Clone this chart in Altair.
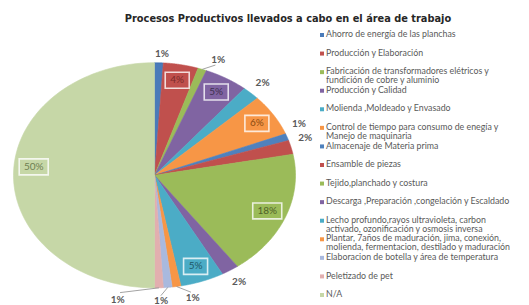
import altair as alt
import pandas as pd

# ---------------- data ----------------
categories = [
    "Ahorro de energía de las planchas",
    "Producción y Elaboración",
    "Fabricación de transformadores elétricos  y\nfundición de cobre y aluminio",
    "Producción y Calidad",
    " Molienda ,Moldeado y Envasado",
    "Control de tiempo para consumo de enegía y\nManejo de maquinaria",
    "Almacenaje de Materia prima",
    "Ensamble de piezas",
    "Tejido,planchado y costura",
    "Descarga ,Preparación ,congelación y Escaldado",
    "Lecho profundo,rayos ultravioleta, carbon\nactivado, ozonificación y osmosis inversa",
    "Plantar, 7años de maduración, jima, conexión,\nmolienda, fermentacion, destilado y maduración",
    "Elaboracion de botella y área de temperatura",
    "Peletizado de pet",
    "N/A",
]
values = [1, 4, 1, 5, 2, 6, 1, 2, 18, 2, 5, 1, 1, 1, 50]

# label placement: radius as a fraction of the pie radius, small angular nudges in degrees
label_r = [1.08, 0.86, 1.12, 0.86, 1.12, 0.86, 1.12, 1.12, 0.86, 1.12, 0.86, 1.12, 1.12, 1.14, 0.86]
label_nudge = [1, 0, 4, 0, 0, 0, -4, -3, 0, 0, 0, -5, 3, 15, 5]
leader = [0, 0, 1, 0, 0, 0, 0, 0, 0, 0, 0, 1, 1, 1, 0]

title_text = "Procesos  Productivos  llevados a cabo en el área de trabajo"

# ---------------- styles ----------------
slice_colors = ["#4A7BB9", "#C0504D", "#9BBB59", "#8064A2", "#4BACC6", "#F79646",
                "#4F81BD", "#C0504D", "#9BBB59", "#8064A2", "#4BACC6", "#F79646",
                "#A9B9DE", "#E2AFAF", "#C6D7A7"]
label_colors = ["#595959", "#7B2B29", "#595959", "#3F3151", "#595959", "#8A4A10",
                "#595959", "#595959", "#4F6228", "#595959", "#215968", "#595959",
                "#595959", "#595959", "#6E7F52"]
box_colors = ["#FFFFFF", "#F2DCDB", "#FFFFFF", "#E4DFEC", "#FFFFFF", "#FDE9D9",
              "#FFFFFF", "#FFFFFF", "#EBF1DE", "#FFFFFF", "#DAEEF3", "#FFFFFF",
              "#FFFFFF", "#FFFFFF", "#F4F7EE"]

df = pd.DataFrame({
    "cat": categories,
    "value": values,
    "order": list(range(len(categories))),
    "r": label_r,
    "nudge": label_nudge,
    "leader": leader,
})

W, H = 513, 297
xs = alt.Scale(domain=[-1, 1], range=[5.5, 287.5], nice=False, zero=False)
ys = alt.Scale(domain=[-1, 1], range=[279.9, 54.7], nice=False, zero=False)

fill_scale = alt.Scale(domain=categories, range=slice_colors)
text_scale = alt.Scale(domain=categories, range=label_colors)
box_scale = alt.Scale(domain=categories, range=box_colors)

base = alt.Chart(df).transform_window(
    cum="sum(value)", sort=[alt.SortField("order")], frame=[None, 0]
).transform_joinaggregate(
    total="sum(value)"
).transform_calculate(
    a0="2*PI*(datum.cum - datum.value)/datum.total",
    a1="2*PI*datum.cum/datum.total",
)

# pie wedges (elliptical via x/y scales)
N = 90
pie = base.transform_calculate(
    t=f"sequence(0, {N + 2})"
).transform_flatten(["t"]).transform_calculate(
    ang=f"datum.a0 + (datum.a1 - datum.a0) * min(datum.t, {N}) / {N}",
    px=f"datum.t > {N} ? 0 : sin(datum.ang)",
    py=f"datum.t > {N} ? 0 : cos(datum.ang)",
).mark_line(interpolate="linear-closed", strokeWidth=0.6).encode(
    x=alt.X("px:Q", scale=xs, axis=None),
    y=alt.Y("py:Q", scale=ys, axis=None),
    order=alt.Order("t:Q"),
    detail="cat:N",
    fill=alt.Fill("cat:N", scale=fill_scale, legend=None),
    stroke=alt.Stroke("cat:N", scale=fill_scale, legend=None),
)

lab = base.transform_calculate(
    mid="(datum.a0 + datum.a1)/2",
    lang="(datum.a0 + datum.a1)/2 + datum.nudge*PI/180",
    inside="datum.r < 1",
    pct="format(datum.value/datum.total, '.0%')",
).transform_calculate(
    lx="datum.r*sin(datum.lang)",
    ly="datum.r*cos(datum.lang)",
    ex="sin(datum.mid)",
    ey="cos(datum.mid)",
    qx="1.07*sin(datum.lang)",
    qy="1.07*cos(datum.lang)",
)

box_small = lab.transform_filter(
    "datum.inside && length(datum.pct) <= 2"
).mark_point(shape="M-1,-0.667H1V0.667H-1Z", size=576, filled=False, strokeWidth=1.6, opacity=1).encode(
    x=alt.X("lx:Q", scale=xs, axis=None),
    y=alt.Y("ly:Q", scale=ys, axis=None),
    stroke=alt.Stroke("cat:N", scale=box_scale, legend=None),
)
box_big = lab.transform_filter(
    "datum.inside && length(datum.pct) > 2"
).mark_point(shape="M-1,-0.55H1V0.55H-1Z", size=841, filled=False, strokeWidth=1.6, opacity=1).encode(
    x=alt.X("lx:Q", scale=xs, axis=None),
    y=alt.Y("ly:Q", scale=ys, axis=None),
    stroke=alt.Stroke("cat:N", scale=box_scale, legend=None),
)

text_in = lab.transform_filter("datum.inside").mark_text(
    font="Lato", fontSize=10, baseline="middle", align="center"
).encode(
    x=alt.X("lx:Q", scale=xs, axis=None),
    y=alt.Y("ly:Q", scale=ys, axis=None),
    text="pct:N",
    color=alt.Color("cat:N", scale=text_scale, legend=None),
)
text_out = lab.transform_filter("!datum.inside").mark_text(
    font="Lato", fontSize=10, fontWeight="bold", baseline="middle", align="center", color="#595959"
).encode(
    x=alt.X("lx:Q", scale=xs, axis=None),
    y=alt.Y("ly:Q", scale=ys, axis=None),
    text="pct:N",
)
leaders = lab.transform_filter("datum.leader == 1").mark_rule(color="#8C8C8C", strokeWidth=0.8).encode(
    x=alt.X("ex:Q", scale=xs, axis=None),
    y=alt.Y("ey:Q", scale=ys, axis=None),
    x2="qx:Q",
    y2="qy:Q",
)

# legend drawn as marks
leg_y = alt.Y("order:Q", scale=alt.Scale(domain=[0, 14], range=[27, 287], nice=False, zero=False), axis=None)
leg_sq = alt.Chart(df).mark_square(size=16, opacity=1).encode(
    x=alt.value(314),
    y=leg_y,
    fill=alt.Fill("cat:N", scale=fill_scale, legend=None),
)
leg_txt = alt.Chart(df).mark_text(
    font="Lato", fontSize=8.8, align="left", baseline="top", dy=-4.8, lineBreak="\n",
    lineHeight=8.6, color="#595959"
).encode(
    x=alt.value(318),
    y=leg_y,
    text="cat:N",
)

title = alt.Chart(pd.DataFrame({"t": [title_text]})).mark_text(
    font="DejaVu Sans", fontSize=9.8, fontWeight="bold", color="#262626",
    align="center", baseline="middle"
).encode(x=alt.value(280), y=alt.value(11), text="t:N")

chart = alt.layer(
    pie, leaders, box_small, box_big, text_in, text_out, leg_sq, leg_txt, title
).resolve_scale(
    x="independent", y="independent", fill="independent", stroke="independent", color="independent"
).properties(
    width=W, height=H, padding=0, autosize="none"
).configure_view(stroke=None)

chart.save("out.html", embed_options={"renderer": "svg", "actions": False})
